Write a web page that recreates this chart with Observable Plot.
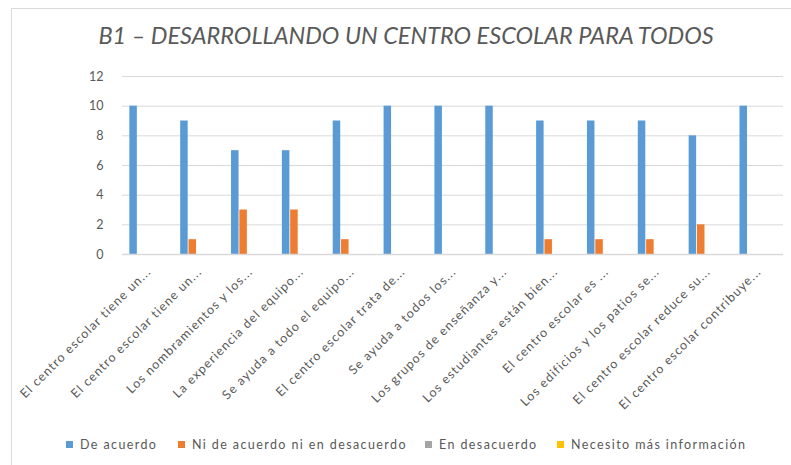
<!DOCTYPE html>
<html>
<head>
<meta charset="utf-8">
<script src="https://cdn.jsdelivr.net/npm/d3@7"></script>
<script src="https://cdn.jsdelivr.net/npm/@observablehq/plot@0.6"></script>
<style>
  body { margin: 0; background: #fff; font-family: Lato, "Open Sans", sans-serif; }
  #wrap { position: relative; width: 791px; height: 465px; overflow: hidden; background: #fff; }
  #frame { position: absolute; left: 11px; top: 8px; width: 900px; height: 600px; border: 1px solid #d9d9d9; }
  #title { position: absolute; left: 0; width: 812px; top: 21px; text-align: center; font-style: italic; font-size: 23.5px; color: #595959; }
  #chart { position: absolute; left: 0; top: 60px; }
  #chart g[aria-label="fx-axis tick label"] text { letter-spacing: 1.1px; }
  #legend { position: absolute; top: 435px; left: 0; width: 791px; height: 18px; font-size: 12.5px; letter-spacing: 1.4px; color: #595959; }
  .item { position: absolute; top: 0; display: flex; align-items: center; height: 18px; white-space: nowrap; }
  .sw { width: 7px; height: 7px; margin-right: 7px; }
</style>
</head>
<body>
<div id="wrap">
  <div id="frame"></div>
  <div id="title">B1 – DESARROLLANDO UN CENTRO ESCOLAR PARA TODOS</div>
  <div id="chart"></div>
  <div id="legend"></div>
</div>
<script>
const categories = [
  "El centro escolar tiene un...",
  "El centro escolar tiene un...",
  "Los nombramientos y los...",
  "La experiencia del equipo...",
  "Se ayuda a todo el equipo...",
  "El centro escolar trata de...",
  "Se ayuda a todos los...",
  "Los grupos de enseñanza y...",
  "Los estudiantes están bien...",
  "El centro escolar es ...",
  "Los edificios y los patios se...",
  "El centro escolar reduce su...",
  "El centro escolar contribuye..."
];
const seriesNames = ["De acuerdo", "Ni de acuerdo ni en desacuerdo", "En desacuerdo", "Necesito más información"];
const seriesColors = ["#5b9bd5", "#ed7d31", "#a5a5a5", "#ffc000"];
const deAcuerdo = [10, 9, 7, 7, 9, 10, 10, 10, 9, 9, 9, 8, 10];
const niDeAcuerdo = [0, 1, 3, 3, 1, 0, 0, 0, 1, 1, 1, 2, 0];
const enDesacuerdo = [0, 0, 0, 0, 0, 0, 0, 0, 0, 0, 0, 0, 0];
const necesitoInfo = [0, 0, 0, 0, 0, 0, 0, 0, 0, 0, 0, 0, 0];
const yTicks = [0, 2, 4, 6, 8, 10, 12];

const seriesValues = [deAcuerdo, niDeAcuerdo, enDesacuerdo, necesitoInfo];
const data = [];
categories.forEach((c, i) => {
  seriesNames.forEach((s, j) => {
    data.push({cat: i, series: s, value: seriesValues[j][i]});
  });
});

const chart = Plot.plot({
  width: 791,
  height: 365,
  marginLeft: 122,
  marginRight: 8,
  marginTop: 16,
  marginBottom: 171,
  style: {fontFamily: "Lato, 'Open Sans', sans-serif", color: "#595959", background: "transparent"},
  fx: {domain: d3.range(categories.length), padding: 0, round: false, label: null},
  x: {domain: seriesNames, paddingInner: 0.1, paddingOuter: 1.1, align: 0.4, round: false, axis: null},
  y: {domain: [0, 12], ticks: yTicks, label: null},
  color: {domain: seriesNames, range: seriesColors},
  marks: [
    Plot.ruleY(yTicks.filter(t => t > 0), {stroke: "#d9d9d9", strokeWidth: 1}),
    Plot.axisY(yTicks, {tickSize: 0, tickPadding: 19, fontSize: 12.5, label: null}),
    Plot.axisFx({anchor: "bottom", tickSize: 0, tickRotate: -45, fontSize: 12.5, tickPadding: 15, dx: 1, label: null,
      tickFormat: i => categories[i]}),
    Plot.barY(data, {fx: "cat", x: "series", y: "value", fill: "series"}),
    Plot.ruleY([0], {stroke: "#d9d9d9", strokeWidth: 1.5})
  ]
});
document.getElementById("chart").appendChild(chart);

const legendX = [66, 178, 425, 557];
const legend = document.getElementById("legend");
seriesNames.forEach((s, j) => {
  const it = document.createElement("div");
  it.className = "item";
  it.style.left = legendX[j] + "px";
  const sw = document.createElement("span");
  sw.className = "sw";
  sw.style.background = seriesColors[j];
  it.appendChild(sw);
  it.appendChild(document.createTextNode(s));
  legend.appendChild(it);
});
</script>
</body>
</html>
